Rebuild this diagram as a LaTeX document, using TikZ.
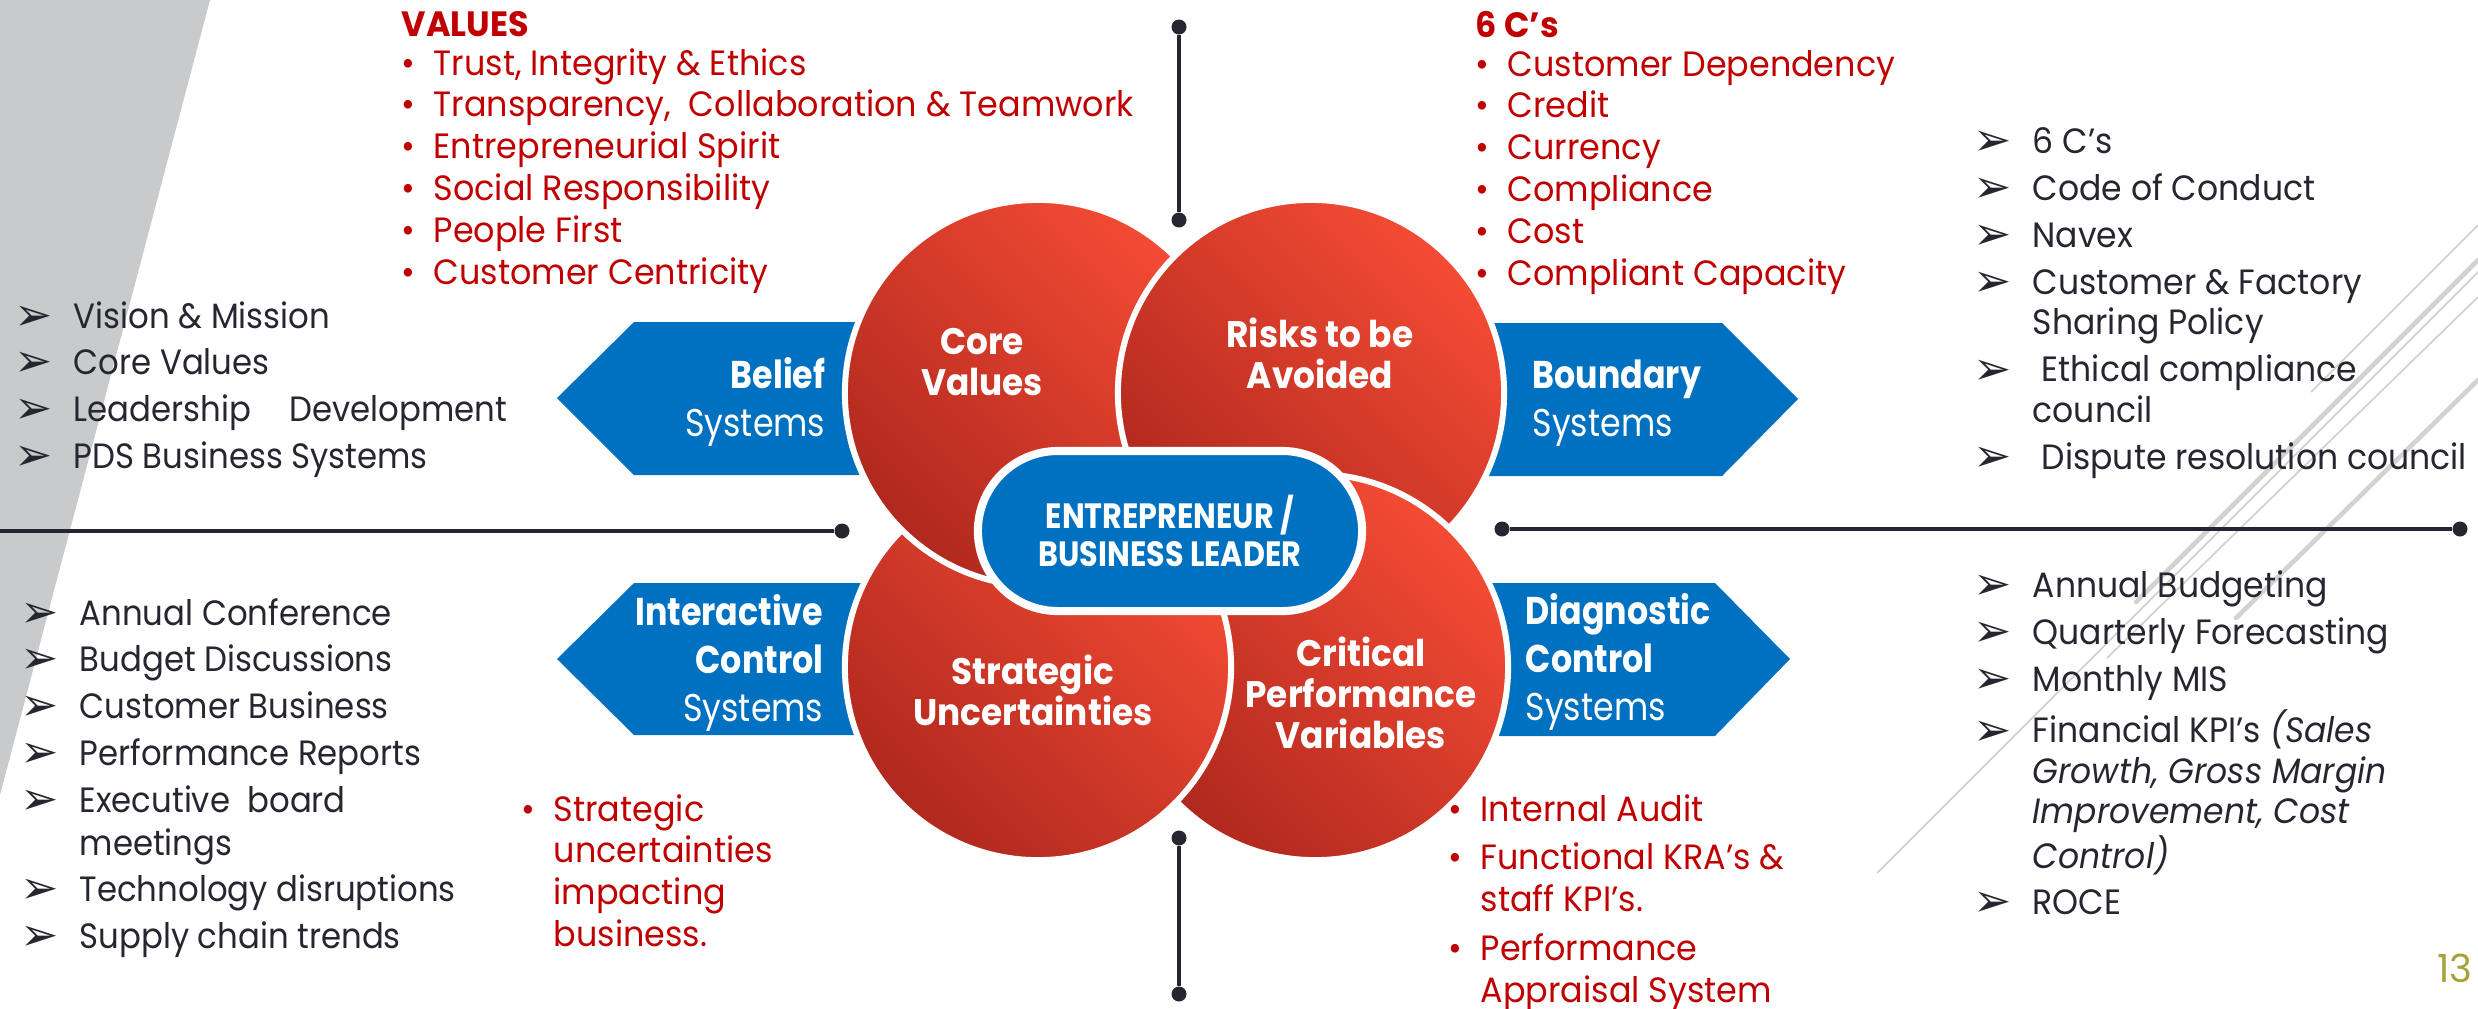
\documentclass[tikz,border=0pt]{standalone}
\usepackage{fontspec}
\usepackage{graphicx}
\setmainfont{Poppins}
\newfontfamily\condfont[FakeStretch=0.86]{Poppins}
\newfontfamily\ballfont[FakeStretch=0.93]{Poppins}
\newfontfamily\redfont[FakeStretch=0.95]{Poppins}
\newfontfamily\greyfont[FakeStretch=0.92]{Poppins}
\newfontfamily\widefont[FakeStretch=0.94]{Poppins}
\newfontfamily\symfont{DejaVu Sans}
\usetikzlibrary{positioning}

\definecolor{pdsblue}{HTML}{0070C0}
\definecolor{valred}{HTML}{C00000}
\definecolor{inkgray}{HTML}{262630}
\definecolor{ballLight}{HTML}{F44B34}
\definecolor{ballDark}{HTML}{B0281E}
\definecolor{barGray}{HTML}{C9CACC}
\definecolor{decoGray}{HTML}{D2D2D2}
\definecolor{pageOlive}{HTML}{A8A23A}

\newcommand{\redbul}{\makebox[0.32cm][l]{•}}
\newcommand{\chevron}{\makebox[0.59cm][l]{\raisebox{-0.6pt}{\symfont\fontsize{13}{13}\selectfont ➢}}}

\begin{document}
\begin{tikzpicture}[x=0.01cm, y=-0.01cm,
	ball/.style={circle, draw=white, line width=1.7pt, minimum size=3.86cm, inner sep=0pt,
		top color=ballLight, bottom color=ballDark, shading angle=-45},
	balltxt/.style={text=white, align=center, inner sep=0pt, font=\ballfont\bfseries\fontsize{10.5}{11.6}\selectfont},
	systxt/.style={text=white, inner sep=0pt, font=\condfont\fontsize{11}{13.6}\selectfont},
	greylist/.style={anchor=base west, inner sep=0pt, text=inkgray, font=\greyfont\fontsize{10}{12.2}\selectfont},
	widelist/.style={anchor=base west, inner sep=0pt, text=inkgray, font=\widefont\fontsize{10}{11.5}\selectfont},
	redlist/.style={anchor=base west, inner sep=0pt, text=valred, font=\redfont\fontsize{10}{11.9}\selectfont},
	endknob/.style={circle, fill=inkgray, minimum size=0.15cm, inner sep=0pt},
	rule/.style={draw=inkgray, line width=0.9pt},
	decoline/.style={draw=decoGray, line width=0.5pt},
	decobar/.style={draw=decoGray, line width=1.3pt, line cap=round}]

	\useasboundingbox (0,0) rectangle (2478,1008);
	\fill[barGray] (0,0) -- (210,0) -- (0,795) -- cycle;

	\draw[decoline] (1877,873) -- (2478,272);
	\draw[decoline] (2107,658) -- (2478,297);
	\draw[decoline] (2311,392) -- (2478,225);
	\draw[decobar] (2136,602) -- (2478,260);
	\draw[decobar] (2236,618) -- (2478,380);

	\fill[pdsblue] (557,398) -- (634,322) -- (880,322) -- (880,475) -- (634,475) -- cycle;
	\fill[pdsblue] (557,659) -- (634,583) -- (880,583) -- (880,735) -- (634,735) -- cycle;
	\fill[pdsblue] (1798,399) -- (1722,323) -- (1470,323) -- (1470,476) -- (1722,476) -- cycle;
	\fill[pdsblue] (1790,659) -- (1715,583) -- (1470,583) -- (1470,736) -- (1715,736) -- cycle;

	\node[endknob] (topKnobA) at (1179,27) {};
	\node[endknob] (topKnobB) at (1179,220) {};
	\draw[rule] (topKnobA) -- (topKnobB);
	\node[endknob] (botKnobA) at (1179,838) {};
	\node[endknob] (botKnobB) at (1179,994) {};
	\draw[rule] (botKnobA) -- (botKnobB);
	\coordinate (leftEnd) at (0,531);
	\node[endknob] (leftKnob) at (842,531) {};
	\draw[rule] (leftEnd) -- (leftKnob);
	\node[endknob] (rightKnobA) at (1502,529) {};
	\node[endknob] (rightKnobB) at (2460,529) {};
	\draw[rule] (rightKnobA) -- (rightKnobB);

	\node[ball] (core) at (1038,393) {};
	\node[ball] (risks) at (1311,393) {};
	\node[ball] (cpv) at (1315,667) {};
	\node[ball] (strat) at (1038,667) {};
	\begin{scope}
		\clip (820,440) rectangle (1110,640);
		\node[ball] (coreTop) at (core.center) {};
	\end{scope}

	\node[draw=white, line width=2.3pt, fill=pdsblue, rounded corners=0.8cm, minimum width=3.84cm,
		minimum height=1.6cm, text=white, align=center,
		font=\condfont\bfseries\fontsize{10}{10.9}\selectfont] (leader) at (1170,531) {ENTREPRENEUR /\\BUSINESS LEADER};

	\node[balltxt] (coreTxt) at (982,362) {Core\\Values};
	\node[balltxt] (risksTxt) at (1320,353) {Risks to be\\Avoided};
	\node[balltxt] (stratTxt) at (1033,690) {Strategic\\Uncertainties};
	\node[balltxt] (cpvTxt) at (1361,693) {Critical\\Performance\\Variables};

	\node[systxt, anchor=east, align=right] (beliefTxt) at (826,402) {\textbf{Belief}\\Systems};
	\node[systxt, anchor=east, align=right] (interTxt) at (824,663) {\textbf{Interactive}\\\textbf{Control}\\Systems};
	\node[systxt, anchor=west, align=left] (boundTxt) at (1532,403) {\textbf{Boundary}\\Systems};
	\node[systxt, anchor=west, align=left] (diagTxt) at (1525,662) {\textbf{Diagnostic}\\\textbf{Control}\\Systems};

	\node[redlist] (valuesList) at (401,36) {\begin{tabular}[t]{@{}l@{}}
		\textbf{VALUES}\\[-0.8pt]
		\redbul Trust, Integrity \& Ethics\\
		\redbul Transparency,\ \ Collaboration \& Teamwork\\
		\redbul Entrepreneurial Spirit\\
		\redbul Social Responsibility\\
		\redbul People First\\
		\redbul Customer Centricity
	\end{tabular}};
	\node[redlist] (csList) at (1475,37) {\begin{tabular}[t]{@{}l@{}}
		\textbf{6 C’s}\\[-0.8pt]
		\redbul Customer Dependency\\
		\redbul Credit\\
		\redbul Currency\\
		\redbul Compliance\\
		\redbul Cost\\
		\redbul Compliant Capacity
	\end{tabular}};
	\node[redlist] (uncertList) at (521,821) {\begin{tabular}[t]{@{}l@{}}
		\redbul Strategic\\
		\hspace*{0.32cm}uncertainties\\
		\hspace*{0.32cm}impacting\\
		\hspace*{0.32cm}business.
	\end{tabular}};
	\node[redlist] (auditList) at (1448,821) {\begin{tabular}[t]{@{}l@{}}
		\redbul Internal Audit\\[2pt]
		\redbul Functional KRA’s \&\\
		\hspace*{0.32cm}staff KPI’s.\\[2pt]
		\redbul Performance\\
		\hspace*{0.32cm}Appraisal System
	\end{tabular}};

	\node[greylist] (beliefList) at (14,328) {\begin{tabular}[t]{@{}l@{}}
		\chevron Vision \& Mission\\[1.1pt]
		\chevron Core Values\\[1.1pt]
		\chevron Leadership\hspace{0.3cm} Development\\[1.1pt]
		\chevron PDS Business Systems
	\end{tabular}};
	\node[greylist] (interList) at (20,625) {\begin{tabular}[t]{@{}l@{}}
		\chevron Annual Conference\\[1.1pt]
		\chevron Budget Discussions\\[1.1pt]
		\chevron Customer Business\\[1.1pt]
		\chevron Performance Reports\\[1.1pt]
		\chevron Executive\ \ board\\
		\hspace*{0.59cm}meetings\\[1.1pt]
		\chevron Technology disruptions\\[1.1pt]
		\chevron Supply chain trends
	\end{tabular}};
	\node[widelist] (boundList) at (1973,153) {\begin{tabular}[t]{@{}l@{}}
		\chevron 6 C’s\\[1.9pt]
		\chevron Code of Conduct\\[1.9pt]
		\chevron Navex\\[1.9pt]
		\chevron Customer \& Factory\\
		\hspace*{0.59cm}Sharing Policy\\[1.9pt]
		\chevron \hspace{0.09cm}Ethical compliance\\
		\hspace*{0.59cm}council\\[1.9pt]
		\chevron \hspace{0.09cm}Dispute resolution council
	\end{tabular}};
	\node[widelist] (diagList) at (1973,597) {\begin{tabular}[t]{@{}l@{}}
		\chevron Annual Budgeting\\[1.9pt]
		\chevron Quarterly Forecasting\\[1.9pt]
		\chevron Monthly MIS\\[1.9pt]
		\chevron Financial KPI’s \textit{(Sales}\\
		\hspace*{0.59cm}\textit{Growth, Gross Margin}\\
		\hspace*{0.59cm}\textit{Improvement, Cost}\\
		\hspace*{0.59cm}\textit{Control)}\\[1.6pt]
		\chevron ROCE
	\end{tabular}};

	\node[text=pageOlive, font=\fontsize{11}{11}\selectfont] (pageNo) at (2455,968) {13};
\end{tikzpicture}
\end{document}
